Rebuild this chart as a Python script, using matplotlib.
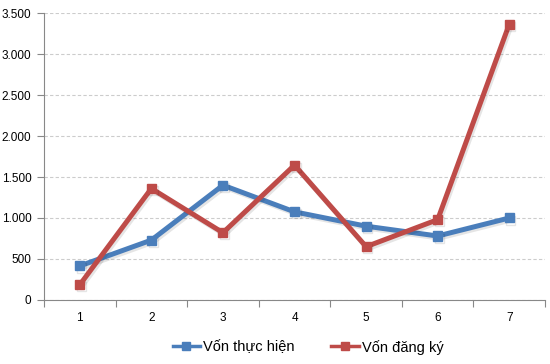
import matplotlib
matplotlib.use("Agg")
import matplotlib.pyplot as plt
import matplotlib.patheffects as pe
from matplotlib.ticker import FuncFormatter, FixedLocator

# Daten
kategorien = [1, 2, 3, 4, 5, 6, 7]
von_thuc_hien = [415, 730, 1400, 1075, 900, 780, 1000]
von_dang_ky = [185, 1360, 820, 1645, 650, 980, 3365]

plt.rcParams['font.family'] = ['Liberation Sans', 'DejaVu Sans']

fig = plt.figure(figsize=(5.5, 3.64), dpi=100)
ax = fig.add_axes([0.08, 0.176, 0.911, 0.788])

schatten = [pe.SimpleLineShadow(offset=(1.2, -1.5), shadow_color='black', alpha=0.10, rho=0.3), pe.Normal()]

ax.plot(kategorien, von_thuc_hien, color='#4a7ebb', lw=3.6, marker='s', markersize=6.5,
        label='Vốn thực hiện', path_effects=schatten, zorder=3)
ax.plot(kategorien, von_dang_ky, color='#be4b48', lw=3.6, marker='s', markersize=6.5,
        label='Vốn đăng ký', path_effects=schatten, zorder=4)

ax.set_xlim(0.5, 7.5)
ax.set_ylim(0, 3500)
ax.set_yticks(range(0, 3501, 500))
ax.yaxis.set_major_formatter(FuncFormatter(lambda v, p: f"{int(v):,}".replace(",", ".")))

# x-Ticks zwischen den Kategorien, Beschriftung in der Mitte
ax.set_xticks([k + 0.5 for k in [0] + kategorien])
ax.set_xticklabels([])
ax.xaxis.set_minor_locator(FixedLocator(kategorien))
ax.set_xticklabels([str(k) for k in kategorien], minor=True)
ax.tick_params(axis='x', which='minor', length=0, pad=9, labelsize=8.5)
ax.tick_params(axis='x', which='major', length=5, color='#888888', direction='out')
ax.tick_params(axis='y', length=5, color='#888888', labelsize=8.5, pad=4)

ax.grid(axis='y', linestyle=(0, (3, 2)), color='#cccccc', lw=0.8)
ax.set_axisbelow(True)
for s in ['top', 'right']:
    ax.spines[s].set_visible(False)
for s in ['left', 'bottom']:
    ax.spines[s].set_color('#888888')

leg = fig.legend(loc='lower center', bbox_to_anchor=(0.56, -0.01), ncol=2, frameon=False,
                 fontsize=10.5, handlelength=1.9, columnspacing=2.5, handletextpad=0.2,
                 markerscale=0.85)
for h in leg.legend_handles:
    h.set_linewidth(2.5)
    h.set_path_effects([])

plt.savefig('out.png', dpi=100, facecolor='white')
